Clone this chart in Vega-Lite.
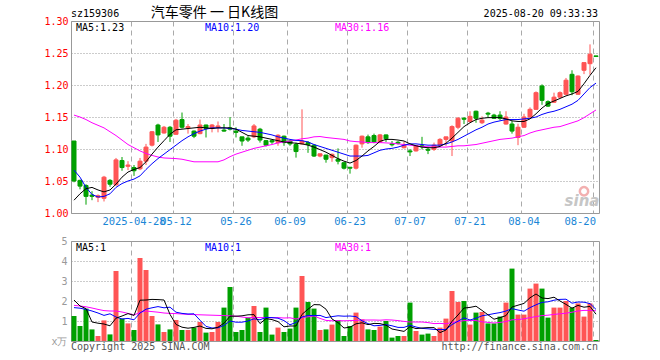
{
  "$schema": "https://vega.github.io/schema/vega-lite/v6.json",
  "padding": {"left": 43, "top": 5, "right": 5, "bottom": 5},
  "background": "white",
  "spacing": 28,
  "bounds": "flush",
  "datasets": {
    "k": [
      {"d":"2025-04-14","o":1.1125,"h":1.1125,"l":1.048,"c":1.050,"v":1.25,"m5":1.020,"m10":1.067,"m30":1.153,"a5":2.05,"a10":1.67,"a30":1.78},
      {"d":"2025-04-15","o":1.051,"h":1.052,"l":1.037,"c":1.042,"v":0.75,"m5":1.030,"m10":1.056,"m30":1.150,"a5":1.75,"a10":1.64,"a30":1.75},
      {"d":"2025-04-16","o":1.043,"h":1.045,"l":1.013,"c":1.026,"v":1.62,"m5":1.038,"m10":1.040,"m30":1.146,"a5":1.62,"a10":1.58,"a30":1.71},
      {"d":"2025-04-17","o":1.028,"h":1.034,"l":1.020,"c":1.026,"v":0.58,"m5":1.040,"m10":1.029,"m30":1.141,"a5":0.95,"a10":1.50,"a30":1.65},
      {"d":"2025-04-18","o":1.0245,"h":1.029,"l":1.017,"c":1.027,"v":0.25,"m5":1.036,"m10":1.025,"m30":1.137,"a5":0.89,"a10":1.40,"a30":1.58},
      {"d":"2025-04-21","o":1.023,"h":1.058,"l":1.018,"c":1.056,"v":1.03,"m5":1.033,"m10":1.026,"m30":1.133,"a5":0.85,"a10":1.28,"a30":1.52},
      {"d":"2025-04-22","o":1.051,"h":1.053,"l":1.041,"c":1.045,"v":0.33,"m5":1.036,"m10":1.030,"m30":1.127,"a5":0.76,"a10":1.36,"a30":1.50},
      {"d":"2025-04-23","o":1.044,"h":1.086,"l":1.043,"c":1.083,"v":3.5,"m5":1.045,"m10":1.040,"m30":1.121,"a5":1.14,"a10":1.20,"a30":1.50},
      {"d":"2025-04-24","o":1.082,"h":1.0875,"l":1.066,"c":1.071,"v":1.12,"m5":1.056,"m10":1.046,"m30":1.114,"a5":1.25,"a10":1.10,"a30":1.45},
      {"d":"2025-04-25","o":1.073,"h":1.081,"l":1.067,"c":1.075,"v":0.88,"m5":1.064,"m10":1.050,"m30":1.107,"a5":1.37,"a10":1.13,"a30":1.38},
      {"d":"2025-04-28","o":1.071,"h":1.075,"l":1.058,"c":1.066,"v":0.55,"m5":1.068,"m10":1.053,"m30":1.102,"a5":1.28,"a10":1.06,"a30":1.30},
      {"d":"2025-04-29","o":1.069,"h":1.086,"l":1.067,"c":1.081,"v":4.15,"m5":1.071,"m10":1.058,"m30":1.097,"a5":2.04,"a10":1.40,"a30":1.43},
      {"d":"2025-04-30","o":1.081,"h":1.108,"l":1.075,"c":1.103,"v":3.55,"m5":1.080,"m10":1.068,"m30":1.093,"a5":2.05,"a10":1.59,"a30":1.50},
      {"d":"2025-05-06","o":1.106,"h":1.128,"l":1.104,"c":1.127,"v":1.25,"m5":1.092,"m10":1.077,"m30":1.090,"a5":2.08,"a10":1.66,"a30":1.47},
      {"d":"2025-05-07","o":1.1375,"h":1.1395,"l":1.111,"c":1.122,"v":0.83,"m5":1.103,"m10":1.085,"m30":1.0875,"a5":2.07,"a10":1.72,"a30":1.44},
      {"d":"2025-05-08","o":1.125,"h":1.136,"l":1.124,"c":1.134,"v":0.45,"m5":1.113,"m10":1.092,"m30":1.086,"a5":2.05,"a10":1.66,"a30":1.40},
      {"d":"2025-05-09","o":1.134,"h":1.136,"l":1.111,"c":1.120,"v":0.58,"m5":1.123,"m10":1.099,"m30":1.0855,"a5":1.33,"a10":1.69,"a30":1.38},
      {"d":"2025-05-12","o":1.123,"h":1.147,"l":1.122,"c":1.145,"v":1.05,"m5":1.130,"m10":1.106,"m30":1.085,"a5":0.83,"a10":1.44,"a30":1.37},
      {"d":"2025-05-13","o":1.146,"h":1.157,"l":1.132,"c":1.134,"v":0.55,"m5":1.131,"m10":1.113,"m30":1.084,"a5":0.69,"a10":1.38,"a30":1.35},
      {"d":"2025-05-14","o":1.133,"h":1.139,"l":1.124,"c":1.135,"v":0.55,"m5":1.132,"m10":1.119,"m30":1.082,"a5":0.64,"a10":1.35,"a30":1.33},
      {"d":"2025-05-15","o":1.128,"h":1.129,"l":1.117,"c":1.120,"v":0.67,"m5":1.133,"m10":1.124,"m30":1.080,"a5":0.68,"a10":1.36,"a30":1.32},
      {"d":"2025-05-16","o":1.124,"h":1.146,"l":1.123,"c":1.1375,"v":0.95,"m5":1.134,"m10":1.128,"m30":1.080,"a5":0.75,"a10":1.04,"a30":1.31},
      {"d":"2025-05-19","o":1.1375,"h":1.138,"l":1.118,"c":1.132,"v":0.42,"m5":1.133,"m10":1.131,"m30":1.080,"a5":0.63,"a10":0.73,"a30":1.30},
      {"d":"2025-05-20","o":1.132,"h":1.139,"l":1.126,"c":1.1375,"v":0.45,"m5":1.132,"m10":1.133,"m30":1.080,"a5":0.61,"a10":0.65,"a30":1.29},
      {"d":"2025-05-21","o":1.134,"h":1.143,"l":1.126,"c":1.136,"v":0.95,"m5":1.133,"m10":1.133,"m30":1.080,"a5":0.69,"a10":0.66,"a30":1.28},
      {"d":"2025-05-22","o":1.1295,"h":1.139,"l":1.127,"c":1.128,"v":1.67,"m5":1.133,"m10":1.133,"m30":1.083,"a5":0.89,"a10":0.78,"a30":1.27},
      {"d":"2025-05-23","o":1.133,"h":1.150,"l":1.129,"c":1.131,"v":2.7,"m5":1.133,"m10":1.132,"m30":1.088,"a5":1.24,"a10":1.00,"a30":1.26},
      {"d":"2025-05-26","o":1.128,"h":1.134,"l":1.118,"c":1.126,"v":0.45,"m5":1.131,"m10":1.131,"m30":1.092,"a5":1.24,"a10":0.94,"a30":1.24},
      {"d":"2025-05-27","o":1.119,"h":1.119,"l":1.105,"c":1.1125,"v":0.55,"m5":1.126,"m10":1.129,"m30":1.095,"a5":1.26,"a10":0.94,"a30":1.20},
      {"d":"2025-05-28","o":1.117,"h":1.120,"l":1.111,"c":1.114,"v":1.17,"m5":1.121,"m10":1.128,"m30":1.098,"a5":1.31,"a10":1.00,"a30":1.16},
      {"d":"2025-05-29","o":1.119,"h":1.139,"l":1.117,"c":1.136,"v":1.75,"m5":1.120,"m10":1.127,"m30":1.101,"a5":1.32,"a10":1.11,"a30":1.18},
      {"d":"2025-05-30","o":1.131,"h":1.133,"l":1.110,"c":1.114,"v":0.45,"m5":1.119,"m10":1.126,"m30":1.103,"a5":0.87,"a10":1.06,"a30":1.17},
      {"d":"2025-06-03","o":1.113,"h":1.114,"l":1.104,"c":1.106,"v":1.67,"m5":1.117,"m10":1.124,"m30":1.105,"a5":1.12,"a10":1.18,"a30":1.17},
      {"d":"2025-06-04","o":1.113,"h":1.114,"l":1.108,"c":1.111,"v":0.32,"m5":1.115,"m10":1.122,"m30":1.107,"a5":1.07,"a10":1.17,"a30":1.16},
      {"d":"2025-06-05","o":1.110,"h":1.123,"l":1.105,"c":1.1215,"v":0.67,"m5":1.113,"m10":1.119,"m30":1.1095,"a5":0.97,"a10":1.14,"a30":1.17},
      {"d":"2025-06-06","o":1.120,"h":1.121,"l":1.105,"c":1.110,"v":0.45,"m5":1.111,"m10":1.117,"m30":1.111,"a5":0.71,"a10":1.02,"a30":1.15},
      {"d":"2025-06-09","o":1.1125,"h":1.114,"l":1.105,"c":1.108,"v":0.62,"m5":1.110,"m10":1.115,"m30":1.1125,"a5":0.75,"a10":0.81,"a30":1.16},
      {"d":"2025-06-10","o":1.107,"h":1.110,"l":1.0865,"c":1.096,"v":1.67,"m5":1.109,"m10":1.1135,"m30":1.114,"a5":0.75,"a10":0.93,"a30":1.10},
      {"d":"2025-06-11","o":1.108,"h":1.162,"l":1.107,"c":1.1125,"v":3.25,"m5":1.108,"m10":1.113,"m30":1.116,"a5":1.33,"a10":1.20,"a30":1.17},
      {"d":"2025-06-12","o":1.110,"h":1.1125,"l":1.094,"c":1.107,"v":1.95,"m5":1.106,"m10":1.111,"m30":1.117,"a5":1.59,"a10":1.28,"a30":1.21},
      {"d":"2025-06-13","o":1.106,"h":1.107,"l":1.0875,"c":1.089,"v":1.62,"m5":1.103,"m10":1.107,"m30":1.119,"a5":1.82,"a10":1.27,"a30":1.25},
      {"d":"2025-06-16","o":1.089,"h":1.0925,"l":1.087,"c":1.0925,"v":0.55,"m5":1.099,"m10":1.104,"m30":1.1195,"a5":1.81,"a10":1.28,"a30":1.13},
      {"d":"2025-06-17","o":1.0905,"h":1.091,"l":1.0786,"c":1.084,"v":0.58,"m5":1.095,"m10":1.101,"m30":1.118,"a5":1.59,"a10":1.17,"a30":1.03},
      {"d":"2025-06-18","o":1.0865,"h":1.093,"l":1.080,"c":1.0917,"v":0.82,"m5":1.090,"m10":1.098,"m30":1.117,"a5":1.10,"a10":1.22,"a30":1.01},
      {"d":"2025-06-19","o":1.084,"h":1.101,"l":1.076,"c":1.081,"v":1.05,"m5":1.085,"m10":1.095,"m30":1.116,"a5":0.92,"a10":1.26,"a30":1.02},
      {"d":"2025-06-20","o":1.0786,"h":1.079,"l":1.068,"c":1.070,"v":0.25,"m5":1.081,"m10":1.092,"m30":1.115,"a5":0.65,"a10":1.24,"a30":1.01},
      {"d":"2025-06-23","o":1.0715,"h":1.0715,"l":1.0615,"c":1.070,"v":0.75,"m5":1.078,"m10":1.089,"m30":1.1125,"a5":0.69,"a10":1.25,"a30":1.02},
      {"d":"2025-06-24","o":1.070,"h":1.107,"l":1.068,"c":1.106,"v":1.42,"m5":1.082,"m10":1.089,"m30":1.1115,"a5":0.86,"a10":1.22,"a30":1.03},
      {"d":"2025-06-25","o":1.108,"h":1.121,"l":1.102,"c":1.120,"v":1.08,"m5":1.089,"m10":1.089,"m30":1.111,"a5":0.91,"a10":1.01,"a30":1.05},
      {"d":"2025-06-26","o":1.119,"h":1.1225,"l":1.108,"c":1.110,"v":0.58,"m5":1.097,"m10":1.090,"m30":1.110,"a5":0.82,"a10":0.87,"a30":1.05},
      {"d":"2025-06-27","o":1.121,"h":1.124,"l":1.109,"c":1.111,"v":0.55,"m5":1.104,"m10":1.094,"m30":1.110,"a5":0.88,"a10":0.76,"a30":1.05},
      {"d":"2025-06-30","o":1.111,"h":1.1235,"l":1.110,"c":1.122,"v":0.72,"m5":1.112,"m10":1.098,"m30":1.110,"a5":0.87,"a10":0.78,"a30":1.04},
      {"d":"2025-07-01","o":1.122,"h":1.1225,"l":1.111,"c":1.116,"v":1.0,"m5":1.115,"m10":1.100,"m30":1.1095,"a5":0.79,"a10":0.82,"a30":1.06},
      {"d":"2025-07-02","o":1.108,"h":1.1125,"l":1.104,"c":1.1065,"v":0.17,"m5":1.115,"m10":1.101,"m30":1.109,"a5":0.60,"a10":0.76,"a30":1.05},
      {"d":"2025-07-03","o":1.1105,"h":1.1125,"l":1.107,"c":1.109,"v":0.25,"m5":1.114,"m10":1.103,"m30":1.108,"a5":0.54,"a10":0.68,"a30":1.02},
      {"d":"2025-07-04","o":1.102,"h":1.1115,"l":1.101,"c":1.106,"v":0.25,"m5":1.1125,"m10":1.106,"m30":1.107,"a5":0.48,"a10":0.68,"a30":0.98},
      {"d":"2025-07-07","o":1.097,"h":1.100,"l":1.089,"c":1.0955,"v":1.92,"m5":1.108,"m10":1.108,"m30":1.106,"a5":0.72,"a10":0.79,"a30":0.95},
      {"d":"2025-07-08","o":1.097,"h":1.106,"l":1.096,"c":1.105,"v":0.5,"m5":1.105,"m10":1.108,"m30":1.105,"a5":0.62,"a10":0.70,"a30":0.95},
      {"d":"2025-07-09","o":1.105,"h":1.119,"l":1.0995,"c":1.1035,"v":0.32,"m5":1.103,"m10":1.107,"m30":1.104,"a5":0.65,"a10":0.63,"a30":0.95},
      {"d":"2025-07-10","o":1.0995,"h":1.103,"l":1.092,"c":1.098,"v":0.37,"m5":1.102,"m10":1.106,"m30":1.1035,"a5":0.67,"a10":0.61,"a30":0.92},
      {"d":"2025-07-11","o":1.0995,"h":1.110,"l":1.097,"c":1.106,"v":0.25,"m5":1.102,"m10":1.106,"m30":1.103,"a5":0.67,"a10":0.58,"a30":0.87},
      {"d":"2025-07-14","o":1.106,"h":1.117,"l":1.105,"c":1.115,"v":0.67,"m5":1.104,"m10":1.106,"m30":1.103,"a5":0.42,"a10":0.57,"a30":0.88},
      {"d":"2025-07-15","o":1.115,"h":1.119,"l":1.105,"c":1.119,"v":1.12,"m5":1.109,"m10":1.108,"m30":1.103,"a5":0.55,"a10":0.58,"a30":0.86},
      {"d":"2025-07-16","o":1.1125,"h":1.137,"l":1.089,"c":1.135,"v":2.5,"m5":1.117,"m10":1.111,"m30":1.104,"a5":0.98,"a10":0.82,"a30":0.93},
      {"d":"2025-07-17","o":1.134,"h":1.150,"l":1.131,"c":1.148,"v":1.95,"m5":1.126,"m10":1.115,"m30":1.105,"a5":1.30,"a10":0.99,"a30":0.97},
      {"d":"2025-07-18","o":1.148,"h":1.150,"l":1.139,"c":1.1465,"v":2.0,"m5":1.135,"m10":1.120,"m30":1.105,"a5":1.65,"a10":1.16,"a30":1.02},
      {"d":"2025-07-21","o":1.143,"h":1.159,"l":1.141,"c":1.151,"v":0.82,"m5":1.141,"m10":1.125,"m30":1.106,"a5":1.68,"a10":1.05,"a30":1.03},
      {"d":"2025-07-22","o":1.159,"h":1.160,"l":1.141,"c":1.148,"v":1.42,"m5":1.146,"m10":1.130,"m30":1.107,"a5":1.74,"a10":1.14,"a30":1.02},
      {"d":"2025-07-23","o":1.141,"h":1.151,"l":1.139,"c":1.145,"v":1.45,"m5":1.148,"m10":1.134,"m30":1.109,"a5":1.53,"a10":1.26,"a30":0.96},
      {"d":"2025-07-24","o":1.156,"h":1.158,"l":1.149,"c":1.1545,"v":0.88,"m5":1.149,"m10":1.139,"m30":1.111,"a5":1.31,"a10":1.31,"a30":0.93},
      {"d":"2025-07-28","o":1.153,"h":1.155,"l":1.147,"c":1.148,"v":0.88,"m5":1.149,"m10":1.142,"m30":1.113,"a5":1.09,"a10":1.37,"a30":0.90},
      {"d":"2025-07-29","o":1.153,"h":1.159,"l":1.145,"c":1.148,"v":1.22,"m5":1.149,"m10":1.144,"m30":1.115,"a5":1.17,"a10":1.42,"a30":0.93},
      {"d":"2025-07-30","o":1.139,"h":1.159,"l":1.138,"c":1.150,"v":1.92,"m5":1.147,"m10":1.146,"m30":1.116,"a5":1.27,"a10":1.50,"a30":0.97},
      {"d":"2025-07-31","o":1.139,"h":1.144,"l":1.124,"c":1.128,"v":3.62,"m5":1.144,"m10":1.146,"m30":1.117,"a5":1.70,"a10":1.62,"a30":1.06},
      {"d":"2025-08-01","o":1.118,"h":1.1395,"l":1.106,"c":1.134,"v":1.32,"m5":1.143,"m10":1.146,"m30":1.119,"a5":1.79,"a10":1.55,"a30":1.07},
      {"d":"2025-08-04","o":1.134,"h":1.155,"l":1.133,"c":1.150,"v":1.32,"m5":1.143,"m10":1.147,"m30":1.121,"a5":1.88,"a10":1.49,"a30":1.11},
      {"d":"2025-08-05","o":1.150,"h":1.165,"l":1.149,"c":1.162,"v":2.62,"m5":1.147,"m10":1.148,"m30":1.125,"a5":2.16,"a10":1.67,"a30":1.17},
      {"d":"2025-08-06","o":1.162,"h":1.190,"l":1.161,"c":1.188,"v":2.87,"m5":1.155,"m10":1.150,"m30":1.128,"a5":2.35,"a10":1.81,"a30":1.22},
      {"d":"2025-08-07","o":1.1985,"h":1.201,"l":1.169,"c":1.176,"v":2.62,"m5":1.164,"m10":1.154,"m30":1.130,"a5":2.15,"a10":1.93,"a30":1.27},
      {"d":"2025-08-08","o":1.174,"h":1.176,"l":1.1656,"c":1.167,"v":1.17,"m5":1.171,"m10":1.157,"m30":1.132,"a5":2.12,"a10":1.96,"a30":1.29},
      {"d":"2025-08-11","o":1.173,"h":1.188,"l":1.172,"c":1.181,"v":1.67,"m5":1.175,"m10":1.159,"m30":1.134,"a5":2.19,"a10":2.04,"a30":1.33},
      {"d":"2025-08-12","o":1.181,"h":1.190,"l":1.180,"c":1.188,"v":1.67,"m5":1.179,"m10":1.162,"m30":1.135,"a5":2.00,"a10":2.08,"a30":1.36},
      {"d":"2025-08-13","o":1.1855,"h":1.211,"l":1.184,"c":1.2075,"v":2.0,"m5":1.183,"m10":1.166,"m30":1.138,"a5":1.83,"a10":2.09,"a30":1.39},
      {"d":"2025-08-14","o":1.2167,"h":1.223,"l":1.184,"c":1.1895,"v":1.67,"m5":1.186,"m10":1.170,"m30":1.141,"a5":1.64,"a10":1.89,"a30":1.44},
      {"d":"2025-08-15","o":1.1855,"h":1.215,"l":1.1845,"c":1.214,"v":1.88,"m5":1.190,"m10":1.176,"m30":1.144,"a5":1.78,"a10":1.95,"a30":1.50},
      {"d":"2025-08-18","o":1.223,"h":1.235,"l":1.217,"c":1.235,"v":1.22,"m5":1.202,"m10":1.186,"m30":1.149,"a5":1.69,"a10":1.94,"a30":1.53},
      {"d":"2025-08-19","o":1.2333,"h":1.2635,"l":1.216,"c":1.248,"v":1.88,"m5":1.215,"m10":1.196,"m30":1.155,"a5":1.73,"a10":1.87,"a30":1.53},
      {"d":"2025-08-20","o":1.2455,"h":1.2455,"l":1.2445,"c":1.2445,"v":0.05,"m5":1.227,"m10":1.203,"m30":1.161,"a5":1.34,"a10":1.58,"a30":1.51}
    ]
  },
  "vconcat": [
    {
      "width": 528,
      "height": 192,
      "data": {"name": "k"},
      "resolve": {"axis": {"y": "independent"}},
      "layer": [
        {
          "mark": {"type": "rule", "strokeWidth": 1},
          "encoding": {
            "x": {
              "field": "d", "type": "ordinal", "title": null,
              "scale": {"paddingInner": 0, "paddingOuter": 0},
              "axis": {
                "values": ["2025-04-28","2025-05-12","2025-05-26","2025-06-09","2025-06-23","2025-07-07","2025-07-21","2025-08-04","2025-08-20"],
                "bandPosition": 0,
                "labelExpr": "datum.value == '2025-04-28' ? datum.label : slice(datum.label, 5)",
                "labelAngle": 0,
                "labelColor": "#1a86d6",
                "labelFontSize": 10.5,
                "labelPadding": 3,
                "labelOverlap": false,
                "labelFlush": 8,
                "grid": true,
                "gridDash": [5, 4],
                "gridColor": "#aaaaaa",
                "ticks": false,
                "domain": false
              }
            },
            "y": {
              "field": "l", "type": "quantitative", "title": null,
              "scale": {"domain": [1, 1.3], "zero": false, "nice": false},
              "axis": {
                "values": [1, 1.05, 1.1, 1.15, 1.2, 1.25, 1.3],
                "format": ".2f",
                "labelColor": "#ff0000",
                "labelPadding": 3,
                "labelOverlap": false,
                "grid": true,
                "gridDash": [1, 2],
                "gridColor": "#999999",
                "ticks": false,
                "domain": false
              }
            },
            "y2": {"field": "h"},
            "color": {"condition": {"test": "datum.c >= datum.o", "value": "#ff5555"}, "value": "#00a000"}
          }
        },
        {
          "mark": {"type": "bar", "width": 4, "strokeWidth": 1},
          "encoding": {
            "x": {"field": "d", "type": "ordinal", "title": null},
            "y": {"field": "o", "type": "quantitative", "title": null, "axis": null},
            "y2": {"field": "c"},
            "fill": {"condition": {"test": "datum.c >= datum.o", "value": "#ff5555"}, "value": "#00a000"},
            "stroke": {"condition": {"test": "datum.c >= datum.o", "value": "#ff5555"}, "value": "#00a000"}
          }
        },
        {
          "mark": {"type": "line", "color": "#ff00ff", "strokeWidth": 1},
          "encoding": {"x": {"field": "d", "type": "ordinal", "title": null}, "y": {"field": "m30", "type": "quantitative", "title": null, "axis": null}}
        },
        {
          "mark": {"type": "line", "color": "#0000ff", "strokeWidth": 1},
          "encoding": {"x": {"field": "d", "type": "ordinal", "title": null}, "y": {"field": "m10", "type": "quantitative", "title": null, "axis": null}}
        },
        {
          "mark": {"type": "line", "color": "#000000", "strokeWidth": 1},
          "encoding": {"x": {"field": "d", "type": "ordinal", "title": null}, "y": {"field": "m5", "type": "quantitative", "title": null, "axis": null}}
        },
        {
          "data": {"values": [{"t": "sz159306"}]},
          "mark": {"type": "text", "align": "left", "baseline": "alphabetic", "dx": -3, "dy": -4, "color": "#000000"},
          "encoding": {"text": {"field": "t"}, "x": {"datum": "2025-04-14", "type": "ordinal"}, "y": {"datum": 1.3, "type": "quantitative", "axis": null}}
        },
        {
          "data": {"values": [{"t": "汽车零件 一 日K线图"}]},
          "mark": {"type": "text", "align": "center", "baseline": "alphabetic", "dx": 2.5, "dy": -4, "font": "Noto Sans CJK SC", "fontSize": 14, "color": "#000000"},
          "encoding": {"text": {"field": "t"}, "x": {"datum": "2025-05-20", "type": "ordinal"}, "y": {"datum": 1.3, "type": "quantitative", "axis": null}}
        },
        {
          "data": {"values": [{"t": "2025-08-20 09:33:33"}]},
          "mark": {"type": "text", "align": "right", "baseline": "alphabetic", "dx": 2, "dy": -4, "color": "#000000"},
          "encoding": {"text": {"field": "t"}, "x": {"datum": "2025-08-20", "type": "ordinal"}, "y": {"datum": 1.3, "type": "quantitative", "axis": null}}
        },
        {
          "data": {"values": [{"t": "MA5:1.23"}]},
          "mark": {"type": "text", "align": "left", "baseline": "alphabetic", "dx": 2, "dy": 10, "color": "#000000"},
          "encoding": {"text": {"field": "t"}, "x": {"datum": "2025-04-14", "type": "ordinal"}, "y": {"datum": 1.3, "type": "quantitative", "axis": null}}
        },
        {
          "data": {"values": [{"t": "MA10:1.20"}]},
          "mark": {"type": "text", "align": "left", "baseline": "alphabetic", "dx": -1, "dy": 10, "color": "#0000ff"},
          "encoding": {"text": {"field": "t"}, "x": {"datum": "2025-05-19", "type": "ordinal"}, "y": {"datum": 1.3, "type": "quantitative", "axis": null}}
        },
        {
          "data": {"values": [{"t": "MA30:1.16"}]},
          "mark": {"type": "text", "align": "left", "baseline": "alphabetic", "dx": 3, "dy": 10, "color": "#ff00ff"},
          "encoding": {"text": {"field": "t"}, "x": {"datum": "2025-06-18", "type": "ordinal"}, "y": {"datum": 1.3, "type": "quantitative", "axis": null}}
        },
        {
          "data": {"values": [{"t": "sina"}]},
          "mark": {"type": "text", "align": "center", "baseline": "alphabetic", "dx": -2, "font": "DejaVu Sans", "fontSize": 15, "fontWeight": "bold", "fontStyle": "italic", "color": "#c6c6c6"},
          "encoding": {"text": {"field": "t"}, "x": {"datum": "2025-08-18", "type": "ordinal"}, "y": {"datum": 1.011, "type": "quantitative", "axis": null}}
        },
        {
          "data": {"values": [{"t": "logo"}]},
          "mark": {"type": "point", "shape": "circle", "size": 70, "filled": false, "stroke": "#f2a8a8", "strokeWidth": 2.5, "opacity": 0.9},
          "encoding": {"x": {"datum": "2025-08-18", "type": "ordinal"}, "y": {"datum": 1.034, "type": "quantitative", "axis": null}}
        }
      ]
    },
    {
      "width": 528,
      "height": 100,
      "data": {"name": "k"},
      "resolve": {"axis": {"y": "independent"}},
      "layer": [
        {
          "mark": {"type": "bar", "width": 5},
          "encoding": {
            "x": {
              "field": "d", "type": "ordinal", "title": null,
              "scale": {"paddingInner": 0, "paddingOuter": 0},
              "axis": {
                "values": ["2025-04-28","2025-05-12","2025-05-26","2025-06-09","2025-06-23","2025-07-07","2025-07-21","2025-08-04","2025-08-20"],
                "bandPosition": 0,
                "labels": false,
                "grid": true,
                "gridDash": [5, 4],
                "gridColor": "#aaaaaa",
                "ticks": false,
                "domain": false
              }
            },
            "y": {
              "field": "v", "type": "quantitative", "title": null,
              "scale": {"domain": [0, 5], "nice": false},
              "axis": {
                "values": [0, 1, 2, 3, 4, 4.999],
                "labelExpr": "datum.value == 0 ? 'x万' : (datum.value > 4.9 ? '5' : datum.label)",
                "labelColor": "#999999",
                "labelFontSize": 10,
                "labelPadding": 4,
                "labelOverlap": false,
                "labelBound": false,
                "labelFlush": false,
                "grid": true,
                "gridDash": [1, 2],
                "gridColor": "#999999",
                "ticks": false,
                "domain": false
              }
            },
            "color": {"condition": {"test": "datum.c >= datum.o", "value": "#ff5555"}, "value": "#00a000"}
          }
        },
        {
          "mark": {"type": "line", "color": "#ff00ff", "strokeWidth": 1},
          "encoding": {"x": {"field": "d", "type": "ordinal", "title": null}, "y": {"field": "a30", "type": "quantitative", "title": null, "axis": null}}
        },
        {
          "mark": {"type": "line", "color": "#0000ff", "strokeWidth": 1},
          "encoding": {"x": {"field": "d", "type": "ordinal", "title": null}, "y": {"field": "a10", "type": "quantitative", "title": null, "axis": null}}
        },
        {
          "mark": {"type": "line", "color": "#000000", "strokeWidth": 1},
          "encoding": {"x": {"field": "d", "type": "ordinal", "title": null}, "y": {"field": "a5", "type": "quantitative", "title": null, "axis": null}}
        },
        {
          "data": {"values": [{"t": "MA5:1"}]},
          "mark": {"type": "text", "align": "left", "baseline": "alphabetic", "dx": 2, "dy": 10, "color": "#000000"},
          "encoding": {"text": {"field": "t"}, "x": {"datum": "2025-04-14", "type": "ordinal"}, "y": {"datum": 5, "type": "quantitative", "axis": null}}
        },
        {
          "data": {"values": [{"t": "MA10:1"}]},
          "mark": {"type": "text", "align": "left", "baseline": "alphabetic", "dx": -1, "dy": 10, "color": "#0000ff"},
          "encoding": {"text": {"field": "t"}, "x": {"datum": "2025-05-19", "type": "ordinal"}, "y": {"datum": 5, "type": "quantitative", "axis": null}}
        },
        {
          "data": {"values": [{"t": "MA30:1"}]},
          "mark": {"type": "text", "align": "left", "baseline": "alphabetic", "dx": 3, "dy": 10, "color": "#ff00ff"},
          "encoding": {"text": {"field": "t"}, "x": {"datum": "2025-06-18", "type": "ordinal"}, "y": {"datum": 5, "type": "quantitative", "axis": null}}
        },
        {
          "data": {"values": [{"t": "Copyright 2025 SINA.COM"}]},
          "mark": {"type": "text", "align": "left", "baseline": "alphabetic", "dx": -3, "dy": 9, "color": "#555555"},
          "encoding": {"text": {"field": "t"}, "x": {"datum": "2025-04-14", "type": "ordinal"}, "y": {"datum": 0, "type": "quantitative", "axis": null}}
        },
        {
          "data": {"values": [{"t": "http://finance.sina.com.cn"}]},
          "mark": {"type": "text", "align": "right", "baseline": "alphabetic", "dx": 2, "dy": 9, "color": "#555555"},
          "encoding": {"text": {"field": "t"}, "x": {"datum": "2025-08-20", "type": "ordinal"}, "y": {"datum": 0, "type": "quantitative", "axis": null}}
        }
      ]
    }
  ],
  "config": {
    "view": {"stroke": "#999999", "strokeWidth": 1},
    "axis": {"labelFont": "DejaVu Sans Mono", "labelFontSize": 10, "labelOverlap": false},
    "text": {"font": "DejaVu Sans Mono", "fontSize": 10}
  }
}
